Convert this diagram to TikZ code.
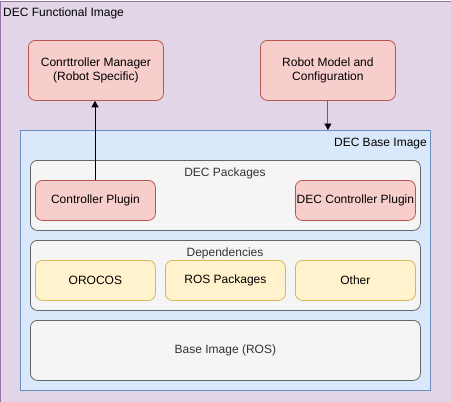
\documentclass[tikz,border=0pt]{standalone}
\usepackage{fontspec}
\setmainfont{Liberation Sans}
\usetikzlibrary{arrows.meta}
\definecolor{purpfill}{HTML}{E1D5E7}
\definecolor{purpline}{HTML}{9673A6}
\definecolor{redfill}{HTML}{F8CECC}
\definecolor{redline}{HTML}{B85450}
\definecolor{bluefill}{HTML}{DAE8FC}
\definecolor{blueline}{HTML}{6C8EBF}
\definecolor{grayfill}{HTML}{F5F5F5}
\definecolor{grayline}{HTML}{666666}
\definecolor{graytext}{HTML}{333333}
\definecolor{yelfill}{HTML}{FFF2CC}
\definecolor{yelline}{HTML}{D6B656}
\tikzset{
  box/.style={rounded corners=7pt, line width=0.8pt, align=center, font=\fontsize{12}{14.5}\selectfont},
  redbox/.style={box, fill=redfill, draw=redline},
  yelbox/.style={box, fill=yelfill, draw=yelline},
  graybox/.style={box, fill=grayfill, draw=grayline, text=graytext},
  lbl/.style={font=\fontsize{12}{14}\selectfont, inner sep=0pt},
  arr/.style={-{Triangle[length=6.5pt,width=7pt,color=black]}, line width=0.9pt}
}
\begin{document}
\begin{tikzpicture}[x=1pt,y=-1pt]
\useasboundingbox (0,0) rectangle (451,402);
\node[draw=purpline, fill=purpfill, line width=0.8pt, minimum width=450pt, minimum height=401pt, anchor=north west, inner sep=0pt] (outer) at (0.5,0.5) {};
\node[lbl, anchor=west] (outerlbl) at (3,13) {DEC Functional Image};
\node[redbox, minimum width=135pt, minimum height=60pt, anchor=north west] (mgr) at (28,40) {Conrttroller Manager\\(Robot Specific)};
\node[redbox, minimum width=135pt, minimum height=60pt, anchor=north west] (model) at (260,40) {Robot Model and\\Configuration};
\node[draw=blueline, fill=bluefill, line width=0.8pt, minimum width=410pt, minimum height=260pt, anchor=north west, inner sep=0pt] (base) at (20,130) {};
\node[lbl, anchor=east] (baselbl) at (427,144) {DEC Base Image};
\node[graybox, minimum width=390pt, minimum height=70pt, anchor=north west] (pkgs) at (30,160) {};
\node[lbl, text=graytext] (pkgslbl) at (225,173) {DEC Packages};
\node[redbox, minimum width=120pt, minimum height=40pt, anchor=north west] (cp) at (35,180) {Controller Plugin};
\node[redbox, minimum width=120pt, minimum height=40pt, anchor=north west, inner sep=0pt] (dcp) at (295,180) {DEC Controller Plugin};
\node[graybox, minimum width=390pt, minimum height=70pt, anchor=north west] (deps) at (30,240) {};
\node[lbl, text=graytext] (depslbl) at (225,253) {Dependencies};
\node[yelbox, minimum width=120pt, minimum height=40pt, anchor=north west] (oro) at (35,260) {OROCOS};
\node[yelbox, minimum width=120pt, minimum height=40pt, anchor=north west] (ros) at (165,260) {ROS Packages};
\node[yelbox, minimum width=120pt, minimum height=40pt, anchor=north west] (oth) at (295,260) {Other};
\node[graybox, minimum width=390pt, minimum height=60pt, anchor=north west] (bros) at (30,320) {Base Image (ROS)};
\draw[arr] (cp.north -| 95,0) -- (mgr.south -| 95,0);
\draw[arr, draw=black!60] (model.south) -- (base.north -| model.south);
\end{tikzpicture}
\end{document}
